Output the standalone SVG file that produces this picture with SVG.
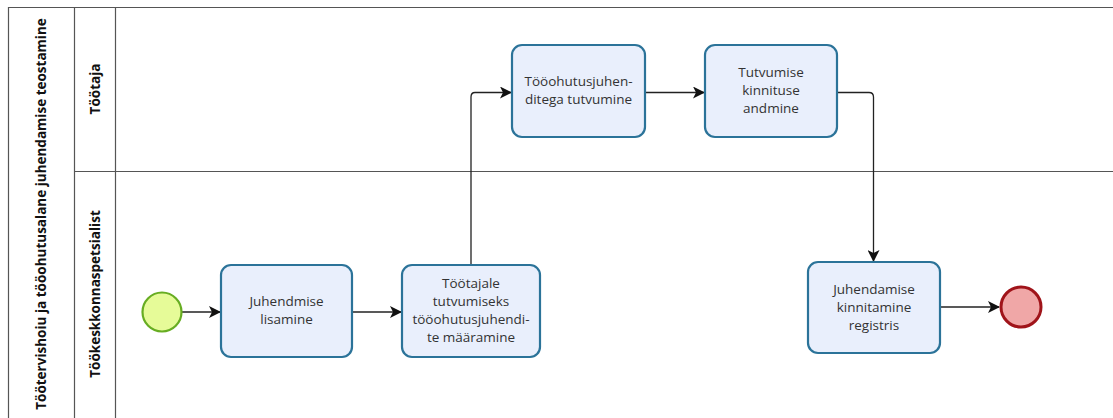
<svg xmlns="http://www.w3.org/2000/svg" width="1113" height="418" viewBox="0 0 1113 418">
<style>
.lane{fill:none;stroke:#555;stroke-width:1.2}
.hdr{font-family:"Open Sans","Noto Sans",sans-serif;font-weight:bold;font-size:13.5px;fill:#111;text-anchor:middle;dominant-baseline:central}
.task{fill:#e9effc;stroke:#2b7399;stroke-width:2.2}
.lbl{font-family:"Open Sans","Noto Sans",sans-serif;font-size:13.5px;fill:#333;text-anchor:middle}
.flow{fill:none;stroke:#222;stroke-width:1.3}
</style>
<defs>
<marker id="arr" viewBox="0 0 12 12" refX="11" refY="6" markerWidth="12" markerHeight="12" markerUnits="userSpaceOnUse" orient="auto">
<path d="M0,0 L12,6 L0,12 L3,6 Z" fill="#111"/>
</marker>
</defs>
<rect width="1113" height="418" fill="#fff"/>
<g id="pool">
<path class="lane" d="M1113,7.5 H8.5 V418 M74.5,7.5 V418 M115.5,7.5 V418 M74.5,171.5 H1113"/>
<text class="hdr" transform="translate(41,214) rotate(-90)">Töötervishoiu ja tööohutusalane juhendamise teostamine</text>
</g>
<g id="lane-tootaja"><text class="hdr" transform="translate(95,89) rotate(-90)">Töötaja</text></g>
<g id="lane-spetsialist"><text class="hdr" transform="translate(95,294) rotate(-90)">Töökeskkonnaspetsialist</text></g>
<g id="connectors">
<path class="flow" marker-end="url(#arr)" d="M182,312 H220"/>
<path class="flow" marker-end="url(#arr)" d="M352,312 H401"/>
<path class="flow" marker-end="url(#arr)" d="M471,265 V97 Q471,92.5 475,92.5 H511"/>
<path class="flow" marker-end="url(#arr)" d="M645,92.5 H704"/>
<path class="flow" marker-end="url(#arr)" d="M837,92.5 H869 Q873.5,92.5 873.5,97 V261"/>
<path class="flow" marker-end="url(#arr)" d="M940,307 H999"/>
</g>
<g id="start"><circle cx="162" cy="312" r="19.5" fill="#e6fb98" stroke="#67ad22" stroke-width="2.2"/></g>
<g id="task1"><rect class="task" x="221" y="265" width="131" height="92" rx="10"/>
<text class="lbl" x="286.5" y="306">Juhendmise</text><text class="lbl" x="286.5" y="324">lisamine</text></g>
<g id="task2"><rect class="task" x="402" y="265" width="138" height="92" rx="10"/>
<text class="lbl" x="471" y="288">Töötajale</text><text class="lbl" x="471" y="306">tutvumiseks</text><text class="lbl" x="471" y="324">tööohutusjuhendi-</text><text class="lbl" x="471" y="342">te määramine</text></g>
<g id="task3"><rect class="task" x="512" y="45" width="133" height="92" rx="10"/>
<text class="lbl" x="578.5" y="86">Tööohutusjuhen-</text><text class="lbl" x="578.5" y="104">ditega tutvumine</text></g>
<g id="task4"><rect class="task" x="705" y="45" width="132" height="92" rx="10"/>
<text class="lbl" x="771" y="77">Tutvumise</text><text class="lbl" x="771" y="95">kinnituse</text><text class="lbl" x="771" y="113">andmine</text></g>
<g id="task5"><rect class="task" x="808" y="262" width="132" height="91" rx="10"/>
<text class="lbl" x="874" y="294">Juhendamise</text><text class="lbl" x="874" y="312">kinnitamine</text><text class="lbl" x="874" y="330">registris</text></g>
<g id="end"><circle cx="1021" cy="307" r="20" fill="#f0a7a7" stroke="#a0141a" stroke-width="3"/></g>
</svg>
